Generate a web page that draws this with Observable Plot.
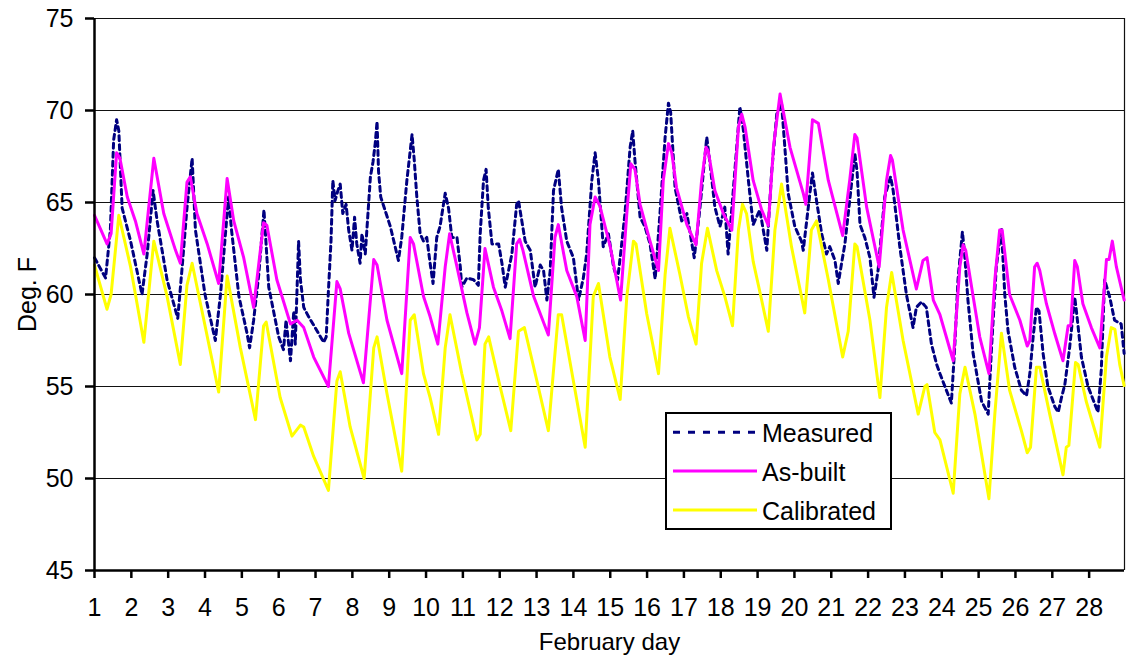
<!DOCTYPE html>
<html>
<head>
<meta charset="utf-8">
<script src="https://cdn.jsdelivr.net/npm/d3@7"></script>
<script src="https://cdn.jsdelivr.net/npm/@observablehq/plot@0.6"></script>
<style>
  html, body { margin: 0; padding: 0; background: #fff; }
  #wrap { position: relative; width: 1126px; height: 658px; font-family: "Liberation Sans", Arial, sans-serif; }
  #legend { position: absolute; left: 665px; top: 412px; }
</style>
</head>
<body>
<div id="wrap"></div>
<script>
// ---- data (day of February, deg F) ----
const measured = [[1.00,62.0],[1.30,60.9],[1.43,63.5],[1.52,68.4],[1.60,69.5],[1.66,68.9],[1.75,64.7],[1.98,62.9],[2.29,60.0],[2.43,62.2],[2.59,65.65],[2.70,64.0],[2.97,60.8],[3.26,58.7],[3.38,61.5],[3.51,64.7],[3.65,67.4],[3.74,63.5],[4.00,60.0],[4.28,57.5],[4.42,60.0],[4.60,64.4],[4.64,65.3],[4.72,63.5],[4.92,59.9],[5.14,57.9],[5.21,57.1],[5.32,58.6],[5.46,61.1],[5.60,64.6],[5.73,60.4],[5.91,58.6],[6.00,57.7],[6.13,57.0],[6.20,58.6],[6.32,56.4],[6.41,59.1],[6.45,57.3],[6.54,62.9],[6.59,60.8],[6.68,59.3],[6.81,58.8],[6.99,58.2],[7.22,57.4],[7.29,57.7],[7.35,60.2],[7.42,62.9],[7.47,66.2],[7.53,65.1],[7.60,65.6],[7.67,66.0],[7.74,64.4],[7.83,64.9],[7.90,63.5],[7.99,62.4],[8.06,64.2],[8.12,62.75],[8.21,61.7],[8.26,63.3],[8.35,62.2],[8.40,63.7],[8.49,66.4],[8.56,67.2],[8.62,68.2],[8.67,69.4],[8.71,66.7],[8.77,65.3],[9.03,63.7],[9.25,61.85],[9.34,63.1],[9.48,66.2],[9.62,68.7],[9.68,67.3],[9.75,65.3],[9.84,63.3],[9.93,62.9],[10.02,63.1],[10.11,61.7],[10.19,60.6],[10.29,63.1],[10.38,63.7],[10.52,65.5],[10.61,64.7],[10.70,63.1],[10.84,63.1],[10.93,61.5],[10.97,60.4],[11.11,60.9],[11.29,60.8],[11.42,60.5],[11.47,63.3],[11.56,66.2],[11.63,66.8],[11.69,64.7],[11.79,62.75],[11.97,62.75],[12.06,61.7],[12.15,60.4],[12.24,61.3],[12.33,62.2],[12.46,64.9],[12.51,65.1],[12.60,64.0],[12.69,62.9],[12.83,62.4],[12.96,60.4],[13.10,61.6],[13.19,61.3],[13.28,59.7],[13.37,61.3],[13.46,65.65],[13.59,66.8],[13.68,64.7],[13.82,62.9],[14.00,62.0],[14.14,59.7],[14.27,60.9],[14.36,62.2],[14.50,66.2],[14.59,67.7],[14.68,66.2],[14.81,62.6],[14.95,63.3],[15.09,61.5],[15.20,60.8],[15.28,62.2],[15.40,64.4],[15.54,68.0],[15.61,68.9],[15.67,67.3],[15.81,64.2],[15.94,63.7],[16.08,62.75],[16.22,60.85],[16.35,64.4],[16.49,68.55],[16.58,70.4],[16.64,69.9],[16.76,65.8],[16.94,64.0],[17.08,64.4],[17.28,62.0],[17.42,64.4],[17.62,68.55],[17.71,67.1],[17.84,64.75],[17.98,63.7],[18.11,64.75],[18.20,62.2],[18.34,65.65],[18.52,70.2],[18.61,69.0],[18.75,66.2],[18.88,63.8],[19.06,64.6],[19.25,62.4],[19.38,66.6],[19.52,69.8],[19.65,70.4],[19.74,68.0],[19.83,65.5],[20.01,63.7],[20.19,62.9],[20.24,62.4],[20.42,65.5],[20.49,66.6],[20.60,65.1],[20.74,63.3],[20.87,62.2],[20.96,62.6],[21.10,61.85],[21.19,60.6],[21.28,61.7],[21.37,62.75],[21.50,65.1],[21.64,67.65],[21.70,66.7],[21.78,63.8],[21.91,63.1],[22.05,62.0],[22.16,59.85],[22.27,61.3],[22.45,65.3],[22.61,66.4],[22.68,65.65],[22.86,62.6],[23.04,60.0],[23.22,58.2],[23.31,59.3],[23.45,59.6],[23.58,59.3],[23.72,57.3],[23.86,56.2],[23.95,55.7],[24.26,54.1],[24.35,57.1],[24.44,60.8],[24.56,63.4],[24.62,62.2],[24.71,59.7],[24.85,56.8],[25.08,54.2],[25.26,53.5],[25.35,57.1],[25.48,61.5],[25.62,63.6],[25.71,60.0],[25.80,58.0],[25.98,56.05],[26.16,54.8],[26.30,54.5],[26.39,55.7],[26.48,57.7],[26.57,59.3],[26.64,59.1],[26.75,56.8],[26.88,55.0],[27.07,53.9],[27.16,53.6],[27.25,54.4],[27.34,55.1],[27.47,57.1],[27.61,59.85],[27.66,59.0],[27.79,56.6],[27.97,55.0],[28.24,53.6],[28.33,55.9],[28.42,60.8],[28.56,59.85],[28.69,58.6],[28.87,58.4],[28.95,56.8]];

const asBuilt = [[1.00,64.3],[1.34,62.75],[1.45,63.3],[1.60,67.7],[1.69,67.4],[1.89,65.3],[2.11,64.0],[2.34,62.2],[2.61,67.4],[2.88,64.4],[3.20,62.4],[3.33,61.7],[3.51,66.1],[3.60,66.4],[3.78,64.4],[4.06,62.75],[4.37,60.6],[4.60,66.3],[4.78,64.0],[5.05,62.0],[5.32,59.3],[5.59,63.9],[5.68,63.75],[5.95,60.8],[6.32,58.4],[6.50,58.6],[6.68,58.2],[6.95,56.6],[7.35,55.0],[7.58,60.7],[7.67,60.3],[7.90,57.9],[8.30,55.2],[8.58,61.9],[8.67,61.6],[8.94,58.6],[9.34,55.7],[9.57,63.1],[9.66,62.75],[9.93,59.9],[10.11,58.8],[10.32,57.3],[10.52,61.5],[10.64,63.3],[10.84,61.5],[11.11,59.0],[11.33,57.3],[11.45,58.2],[11.60,62.5],[11.83,60.4],[12.06,59.1],[12.28,57.6],[12.46,62.75],[12.54,63.0],[12.63,62.4],[12.92,59.9],[13.32,57.8],[13.50,63.1],[13.59,63.8],[13.82,61.3],[14.09,59.9],[14.32,57.5],[14.45,63.8],[14.59,65.3],[14.72,64.8],[15.00,62.6],[15.28,59.7],[15.45,64.4],[15.56,67.1],[15.67,66.8],[15.81,64.9],[16.08,62.9],[16.31,61.3],[16.44,66.2],[16.58,68.2],[16.67,67.7],[16.80,65.8],[17.08,63.8],[17.33,62.7],[17.48,66.2],[17.60,68.0],[17.66,67.8],[17.84,65.65],[18.07,64.4],[18.30,63.5],[18.48,69.1],[18.57,69.8],[18.66,69.1],[18.88,66.2],[19.11,64.6],[19.29,63.75],[19.43,68.0],[19.61,70.9],[19.88,68.0],[20.24,65.5],[20.31,64.9],[20.49,69.5],[20.65,69.3],[20.92,66.2],[21.31,63.2],[21.50,66.2],[21.64,68.7],[21.70,68.5],[21.96,64.75],[22.30,61.5],[22.50,66.2],[22.61,67.55],[22.66,67.3],[22.95,63.5],[23.31,60.3],[23.49,61.85],[23.60,62.0],[23.77,59.7],[23.95,58.9],[24.31,56.4],[24.49,61.5],[24.58,62.7],[24.65,62.4],[24.85,59.9],[25.03,57.7],[25.28,55.7],[25.44,60.8],[25.57,63.5],[25.64,63.5],[25.84,60.0],[26.12,58.6],[26.32,57.2],[26.39,57.5],[26.52,61.5],[26.59,61.7],[26.66,61.3],[26.84,59.5],[27.07,57.85],[27.29,56.4],[27.43,58.3],[27.50,58.3],[27.61,61.85],[27.68,61.5],[27.83,59.5],[28.06,58.2],[28.29,57.1],[28.47,61.9],[28.54,61.9],[28.63,62.9],[28.74,61.5],[28.95,59.7]];

const calibrated = [[1.00,61.6],[1.34,59.2],[1.45,60.0],[1.66,64.3],[1.98,61.5],[2.34,57.4],[2.61,62.9],[2.97,59.9],[3.33,56.2],[3.51,60.5],[3.65,61.7],[3.97,58.6],[4.37,54.7],[4.60,61.0],[4.96,57.1],[5.37,53.2],[5.59,58.3],[5.66,58.5],[6.04,54.4],[6.36,52.3],[6.59,52.9],[6.68,52.8],[6.95,51.2],[7.35,49.35],[7.58,55.3],[7.67,55.8],[7.94,52.8],[8.32,50.0],[8.58,57.1],[8.67,57.7],[8.94,54.6],[9.34,50.4],[9.57,58.6],[9.68,58.9],[9.93,55.7],[10.11,54.4],[10.34,52.4],[10.52,57.1],[10.65,58.9],[10.97,55.7],[11.38,52.1],[11.47,52.4],[11.60,57.3],[11.70,57.7],[12.01,55.0],[12.30,52.6],[12.51,58.0],[12.67,58.2],[13.01,55.3],[13.32,52.6],[13.59,58.9],[13.68,58.9],[14.00,55.3],[14.32,51.7],[14.54,59.9],[14.68,60.6],[14.99,56.6],[15.27,54.3],[15.45,59.9],[15.63,62.9],[15.70,62.75],[15.99,58.95],[16.31,55.7],[16.49,61.1],[16.62,63.6],[16.89,61.1],[17.12,58.8],[17.33,57.3],[17.48,61.7],[17.64,63.6],[17.89,61.3],[18.11,59.9],[18.32,58.3],[18.48,63.5],[18.59,64.9],[18.70,64.4],[18.88,61.8],[19.11,59.7],[19.29,58.0],[19.47,63.5],[19.65,66.0],[19.92,62.6],[20.28,59.0],[20.46,63.5],[20.60,64.0],[20.92,60.8],[21.31,56.6],[21.46,58.0],[21.64,62.75],[21.70,62.6],[22.05,58.6],[22.32,54.4],[22.50,59.3],[22.64,61.2],[22.95,57.5],[23.36,53.5],[23.54,55.0],[23.60,55.1],[23.81,52.5],[23.95,52.1],[24.31,49.2],[24.49,54.6],[24.63,56.05],[24.90,53.5],[25.28,48.9],[25.44,53.5],[25.62,57.9],[25.84,54.8],[26.16,52.6],[26.32,51.4],[26.41,51.7],[26.57,56.05],[26.66,56.05],[26.93,53.5],[27.29,50.2],[27.38,51.7],[27.45,51.8],[27.63,56.3],[27.70,56.2],[27.92,54.2],[28.29,51.7],[28.47,56.6],[28.60,58.2],[28.70,58.1],[28.83,56.2],[28.95,55.05]];

const seriesNames = ["Measured", "As-built", "Calibrated"];
const seriesColors = ["#000080", "#ff00ff", "#ffff00"];
const seriesDash = ["5,4", null, null];
const legendDash = ["7,8", null, null];
const dayTicks = d3.range(1, 29);           // 1 … 28
const tempTicks = [45, 50, 55, 60, 65, 70, 75];
const xDomain = [1, 28.96];
const yDomain = [45, 75];
const xLabel = "February day";
const yLabel = "Deg. F";

// ---- build tidy rows ----
const rows = [];
[measured, asBuilt, calibrated].forEach((s, i) =>
  s.forEach(([day, temp]) => rows.push({series: seriesNames[i], day, temp})));

const font = "Liberation Sans, Arial, sans-serif";

const chart = Plot.plot({
  width: 1126,
  height: 658,
  marginLeft: 94,
  marginRight: 2,
  marginTop: 18,
  marginBottom: 88,
  style: {fontFamily: font, fontSize: "25px", background: "#fff", color: "#000", overflow: "visible"},
  x: {domain: xDomain},
  y: {domain: yDomain},
  marks: [
    Plot.gridY(tempTicks.filter(t => t > yDomain[0]), {stroke: "#111", strokeOpacity: 1, strokeWidth: 1}),
    Plot.ruleX([xDomain[1]], {stroke: "#111", strokeWidth: 1.2}),
    ...seriesNames.map((name, i) =>
      Plot.line(rows, {
        filter: d => d.series === name,
        x: "day", y: "temp",
        stroke: seriesColors[i],
        strokeWidth: 3,
        strokeDasharray: seriesDash[i] ?? undefined,
        strokeLinejoin: "round",
        curve: "linear"
      })),
    Plot.ruleY([yDomain[0]], {stroke: "#000", strokeWidth: 2.5}),
    Plot.ruleX([xDomain[0]], {stroke: "#000", strokeWidth: 2.5}),
    Plot.axisX({ticks: dayTicks, tickFormat: d => String(d), tickSize: 8, tickPadding: 20,
                strokeWidth: 2.5, label: null, fontSize: 25}),
    Plot.axisY({ticks: tempTicks, tickFormat: d => String(d), tickSize: 9, tickPadding: 12,
                strokeWidth: 2.5, label: null, fontSize: 25}),
    Plot.text([xLabel], {frameAnchor: "bottom", lineAnchor: "bottom", dy: 79, fontSize: 24, fill: "#000"}),
    Plot.text([yLabel], {frameAnchor: "left", rotate: -90, dx: -67, fontSize: 25, fill: "#000", textAnchor: "middle"})
  ]
});

const wrap = document.getElementById("wrap");
wrap.appendChild(chart);

// ---- legend (overlay box) ----
const lw = 227, lh = 118;
const rowY = [20.3, 59, 98];
const leg = d3.select(wrap).append("svg")
  .attr("id", "legend").attr("width", lw).attr("height", lh);
leg.append("rect").attr("x", 1).attr("y", 1).attr("width", lw - 2).attr("height", lh - 2)
  .attr("fill", "#fff").attr("stroke", "#000").attr("stroke-width", 2);
seriesNames.forEach((name, i) => {
  leg.append("line").attr("x1", 8).attr("x2", 92).attr("y1", rowY[i]).attr("y2", rowY[i])
    .attr("stroke", seriesColors[i]).attr("stroke-width", 3)
    .attr("stroke-dasharray", legendDash[i]);
  leg.append("text").attr("x", 97).attr("y", rowY[i] + 9.5)
    .attr("font-family", font).attr("font-size", 25).attr("fill", "#000").text(name);
});
</script>
</body>
</html>
